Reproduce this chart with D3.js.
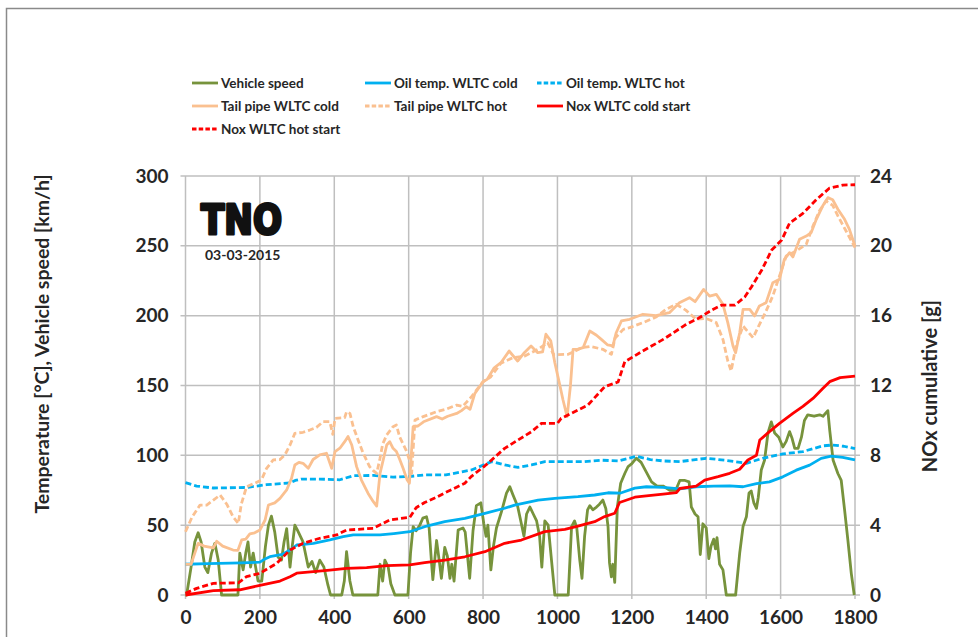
<!DOCTYPE html>
<html>
<head>
    <title>TNO WLTC NOx</title>
    <script src="https://cdn.jsdelivr.net/npm/d3@7/dist/d3.min.js" type="text/javascript"></script>
    <style type="text/css">
        body { margin: 0; background: #fff; }
        svg text { font-family: Lato, "Open Sans", sans-serif; font-weight: bold; fill: #262626; }
    </style>
</head>
<body>
<div id="chart"></div>
<script type="text/javascript">
    // data: [time s, value]
    var speed = [[0,0],[3,0],[15,20],[25,38],[34,44.6],[42,38],[52,20],[60,16],[70,30],[79,37],[88,25],[97,0],[141,0],[146,30],[155,18],[162,30],[168,38],[175,20],[182,30],[195,10],[205,10],[215,35],[223,50],[231,56.5],[240,45],[249,27],[258,25],[265,38],[272,47.5],[281,20],[287,35],[294,50],[300,47],[316,38],[330,20],[340,24],[350,16],[361,25],[372,20],[383,7],[390,0],[420,0],[427,10],[433,31],[442,10],[450,0],[517,0],[523,22],[530,10],[536,25],[545,20],[552,8],[563,0],[598,0],[605,30],[612,49],[620,46],[630,50],[638,55],[648,56],[655,48],[661,25],[665,11],[675,39],[682,25],[688,12],[697,34],[704,28],[711,12],[716,22],[722,10],[733,46.5],[746,48],[752,45],[764,12],[773,46],[782,64],[794,66],[802,51],[808,42],[813,50],[821,18],[828,35],[836,48],[850,60],[863,73],[872,77.5],[880,72],[893,63.5],[903,51],[910,42],[917,58],[926,63],[935,58],[944,53],[952,42],[958,20],[966,53],[975,50],[984,25],[993,0],[1029,0],[1038,49],[1046,53],[1052,48],[1060,25],[1066,12],[1073,42],[1081,61],[1087,64],[1095,61],[1105,63],[1113,65],[1122,68],[1130,62],[1136,49],[1140,23],[1145,13],[1149,22],[1154,9],[1161,63],[1170,80],[1181,87],[1190,92],[1200,94],[1212,98],[1225,95],[1239,88],[1253,81],[1268,78],[1284,78],[1302,75],[1318,75],[1329,82],[1343,82],[1354,81],[1360,63],[1370,58],[1378,56],[1384,29],[1391,51],[1400,48],[1407,26],[1413,35],[1420,40],[1425,33],[1429,41],[1436,22],[1445,18],[1454,0],[1479,0],[1490,30],[1499,49],[1508,56],[1515,73],[1521,74.5],[1528,66],[1535,62],[1540,70],[1548,89.5],[1557,96.7],[1566,116],[1575,124],[1584,116],[1595,113],[1606,106],[1615,110],[1624,117],[1631,112],[1638,105],[1647,105],[1656,113],[1664,125],[1673,129],[1690,128],[1705,129],[1714,128],[1727,132],[1732,118],[1741,96.7],[1754,87],[1763,82],[1772,61],[1781,39],[1790,15.5],[1798,0]];

    var oilCold = [[0,22],[60,22.5],[150,23],[200,23.5],[215,26],[227,27.4],[260,29],[281,32.2],[299,35.8],[344,37],[388,39.4],[424,41.8],[451,43],[523,43],[560,44],[603,45.3],[643,48.9],[697,52.5],[751,54.9],[805,58.5],[858,62.1],[885,64.4],[948,68],[993,69.2],[1055,70.4],[1100,71.6],[1136,73.2],[1170,73],[1208,76.5],[1239,77.5],[1284,77],[1329,76],[1373,77.5],[1420,78],[1463,78.2],[1499,77.5],[1535,79.8],[1570,81],[1606,84.6],[1642,89.4],[1678,93],[1709,97.8],[1736,99.5],[1767,98.6],[1800,96.7]];

    var oilHot = [[0,80.4],[30,78],[75,76.6],[164,77],[218,79],[281,80.2],[295,82],[312,83],[360,83],[415,82.5],[451,85.4],[505,85.6],[558,84.4],[600,84.8],[643,86],[700,86],[769,89.5],[823,95.5],[858,93.1],[894,91.4],[930,93.1],[966,95.5],[1020,95.5],[1073,95.5],[1120,96.5],[1163,96],[1212,99.3],[1250,97],[1284,96],[1329,95.5],[1400,97.9],[1450,96.5],[1508,94.3],[1552,97.9],[1606,101],[1660,102.7],[1714,106.8],[1740,107.4],[1770,106.5],[1800,104.8]];

    var tailCold = [[0,21.9],[15,22],[25,30],[34,37],[50,35],[75,33.7],[84,38.5],[100,35],[128,32.2],[141,32],[151,39.4],[162,40],[173,43.8],[186,44.5],[200,46.5],[214,53.7],[223,64.4],[240,66],[254,69.2],[272,75.2],[285,83.5],[294,93.1],[305,95],[316,94.3],[330,90.7],[343,97],[361,100.3],[379,101.5],[393,90.7],[402,102.7],[415,105.1],[428,109.8],[437,113.5],[447,107.4],[460,91.9],[473,82.3],[491,72.7],[505,66.8],[514,63.7],[523,87.1],[530,95],[541,107.4],[549,109.8],[558,105],[567,102.7],[576,97],[585,90.7],[596,82.3],[602,80],[612,120.5],[625,121],[640,124],[675,127.7],[690,126],[705,128],[729,130],[742,132],[755,134.8],[765,133],[778,144.4],[800,152.7],[811,154.4],[830,162.7],[848,166.3],[870,174.7],[893,167.5],[911,173.5],[929,178.3],[947,173.5],[960,174],[969,186.7],[982,182],[993,166.3],[1005,152],[1015,139.6],[1026,127.7],[1035,150],[1042,175.9],[1055,176],[1069,177.1],[1087,189],[1105,186],[1118,183],[1135,179],[1149,178.3],[1158,187.8],[1172,196.2],[1194,197.4],[1230,201],[1265,200],[1301,202.1],[1328,209.3],[1355,212.9],[1370,210],[1393,218.8],[1409,214],[1427,215.3],[1445,208.1],[1458,195],[1472,178.3],[1479,173.5],[1490,187.8],[1499,204.5],[1517,204.5],[1530,199.8],[1543,207],[1561,209.3],[1579,223.6],[1597,226],[1610,240.3],[1624,245.1],[1633,242],[1651,254.7],[1669,257],[1682,259.4],[1696,269],[1713,278.5],[1727,284.5],[1740,283],[1754,276.2],[1772,269],[1785,261.8],[1800,249.9]];

    var tailHot = [[0,45.3],[18,56],[39,64.4],[57,64.4],[75,68],[93,71.6],[111,65],[128,56],[142,51.3],[150,65],[164,77.5],[186,80],[204,82.3],[218,90.7],[236,96.7],[254,97],[267,100.2],[281,107.4],[294,115.8],[316,116.5],[334,118.1],[352,120],[370,124.1],[388,124.1],[396,115],[402,126.5],[428,127],[433,131.2],[442,130],[451,120.5],[464,111],[477,102],[495,91.9],[505,89],[514,87.1],[523,97.9],[530,108],[541,114.6],[558,120.5],[567,121.7],[576,113],[593,103.8],[602,96.7],[608,87],[617,125.3],[639,127.7],[675,131.2],[700,133],[729,136],[745,135],[769,142],[800,152.7],[820,156],[848,166],[880,169.9],[911,171],[947,175.9],[974,180.6],[990,172],[1029,172.3],[1065,177],[1088,178],[1122,175.9],[1145,172.3],[1155,184],[1177,190.2],[1194,191.4],[1230,195],[1265,199],[1292,204.5],[1319,208.1],[1345,204],[1373,197.4],[1400,198],[1427,195],[1445,183],[1458,167.5],[1467,160.4],[1480,178.3],[1499,192.6],[1526,184.2],[1540,192],[1561,203.4],[1579,214.1],[1597,228.4],[1615,242.7],[1642,246.3],[1669,251.1],[1687,264.2],[1704,274.9],[1722,282.1],[1740,279],[1754,271.4],[1776,260.6],[1800,248.7]];

    // NOx cumulative, right axis [g]
    var noxCold = [[0,0],[75,0.25],[146,0.3],[200,0.55],[254,0.8],[281,1.05],[299,1.25],[344,1.34],[388,1.43],[433,1.53],[487,1.57],[541,1.68],[603,1.72],[643,1.85],[697,2.0],[751,2.19],[805,2.48],[858,2.96],[903,3.15],[966,3.63],[1020,3.76],[1055,3.95],[1100,4.2],[1127,4.49],[1154,4.68],[1167,5.3],[1208,5.6],[1239,5.68],[1284,5.78],[1320,5.87],[1329,6.1],[1373,6.24],[1396,6.58],[1432,6.78],[1463,6.97],[1490,7.2],[1512,7.73],[1535,8.0],[1544,8.88],[1570,9.36],[1597,9.83],[1633,10.4],[1660,10.8],[1687,11.26],[1714,11.84],[1732,12.22],[1760,12.45],[1800,12.54]];

    var noxHot = [[0,0.1],[30,0.38],[75,0.67],[142,0.7],[164,1.05],[200,1.24],[245,1.81],[281,2.58],[316,2.96],[361,3.25],[406,3.44],[433,3.72],[505,3.82],[549,4.3],[603,4.45],[620,5.0],[643,5.3],[675,5.6],[697,5.85],[751,6.4],[769,6.8],[805,7.4],[823,7.73],[858,8.4],[894,8.88],[930,9.35],[957,9.83],[1000,9.83],[1010,10.12],[1046,10.5],[1082,10.88],[1127,11.93],[1163,12.2],[1181,13.36],[1226,13.93],[1289,14.7],[1343,15.46],[1379,15.85],[1415,16.32],[1441,16.6],[1477,16.6],[1504,17.08],[1522,17.66],[1549,18.6],[1576,19.76],[1603,20.33],[1624,21.3],[1660,21.86],[1695,22.62],[1731,23.3],[1767,23.48],[1800,23.5]];

    var xTicks = [0,200,400,600,800,1000,1200,1400,1600,1800];
    var yTicks = [0,50,100,150,200,250,300];
    var y2Ticks = [0,4,8,12,16,20,24];

    var series = [
        {name: 'Vehicle speed', data: speed, color: '#77933C', dash: null, axis: 'L'},
        {name: 'Oil temp. WLTC cold', data: oilCold, color: '#00B0F0', dash: null, axis: 'L'},
        {name: 'Oil temp. WLTC hot', data: oilHot, color: '#00B0F0', dash: '6,3', axis: 'L'},
        {name: 'Tail pipe WLTC cold', data: tailCold, color: '#FAC090', dash: null, axis: 'L'},
        {name: 'Tail pipe WLTC hot', data: tailHot, color: '#FAC090', dash: '6,3', axis: 'L'},
        {name: 'Nox WLTC cold start', data: noxCold, color: '#FF0000', dash: null, axis: 'R'},
        {name: 'Nox WLTC hot start', data: noxHot, color: '#FF0000', dash: '6,3', axis: 'R'}
    ];

    var W = 978, H = 637;
    var svg = d3.select('#chart').append('svg').attr('width', W).attr('height', H);

    // outer frame (left + top)
    svg.append('path').attr('d', 'M6.5,637 L6.5,8.5 L978,8.5')
        .attr('fill', 'none').attr('stroke', '#8a8a8a').attr('stroke-width', 1.5);

    var x = d3.scaleLinear().domain([0, 1800]).range([185.5, 855]);
    var yL = d3.scaleLinear().domain([0, 300]).range([595, 176]);
    var yR = d3.scaleLinear().domain([0, 24]).range([595, 176]);

    // grid
    var grid = svg.append('g');
    grid.selectAll('.gx').data(xTicks).enter().append('line')
        .attr('x1', function(d) { return x(d); }).attr('x2', function(d) { return x(d); })
        .attr('y1', yL(300)).attr('y2', yL(0) + 4)
        .attr('stroke', '#bfbfbf').attr('stroke-width', 1.5);
    grid.selectAll('.gy').data(yTicks).enter().append('line')
        .attr('x1', x(0) - 5).attr('x2', x(1800) + 5)
        .attr('y1', function(d) { return yL(d); }).attr('y2', function(d) { return yL(d); })
        .attr('stroke', '#bfbfbf').attr('stroke-width', 1.5);

    // axes (labels only, Excel style)
    var fmt = d3.format('d');
    var axL = svg.append('g').attr('transform', 'translate(' + (x(0) - 17) + ',0)')
        .call(d3.axisLeft(yL).tickValues(yTicks).tickFormat(fmt).tickSize(0).tickPadding(0));
    var axR = svg.append('g').attr('transform', 'translate(' + (x(1800) + 15) + ',0)')
        .call(d3.axisRight(yR).tickValues(y2Ticks).tickFormat(fmt).tickSize(0).tickPadding(0));
    var axB = svg.append('g').attr('transform', 'translate(0,' + (yL(0) + 15) + ')')
        .call(d3.axisBottom(x).tickValues(xTicks).tickFormat(fmt).tickSize(0).tickPadding(0));
    [axL, axR, axB].forEach(function(a) {
        a.select('.domain').remove();
        a.selectAll('text').style('font-size', '19px').style('font-family', null).attr('fill', '#262626');
    });
    axB.selectAll('text').attr('dy', '0.75em');

    // axis titles
    svg.append('text').attr('transform', 'translate(49,344) rotate(-90)')
        .attr('text-anchor', 'middle').style('font-size', '19.5px')
        .text('Temperature [°C], Vehicle speed [km/h]');
    svg.append('text').attr('transform', 'translate(937,386) rotate(-90)')
        .attr('text-anchor', 'middle').style('font-size', '20px')
        .text('NOx cumulative [g]');

    // lines
    var lines = svg.append('g');
    series.forEach(function(s) {
        var yy = s.axis == 'L' ? yL : yR;
        var line = d3.line().x(function(d) { return x(d[0]); }).y(function(d) { return yy(d[1]); });
        lines.append('path').datum(s.data)
            .attr('d', line)
            .attr('fill', 'none')
            .attr('stroke', s.color)
            .attr('stroke-width', 2.8)
            .attr('stroke-linejoin', 'round')
            .attr('stroke-dasharray', s.dash);
    });

    // legend, 3 columns
    var legX = [192, 365, 537], legY = [83, 106, 129];
    var leg = svg.append('g');
    series.forEach(function(s, i) {
        var lx = legX[i % 3], ly = legY[Math.floor(i / 3)];
        leg.append('line').attr('x1', lx).attr('x2', lx + 26).attr('y1', ly).attr('y2', ly)
            .attr('stroke', s.color).attr('stroke-width', 2.8)
            .attr('stroke-dasharray', s.dash ? '4.5,2.2' : null);
        leg.append('text').attr('x', lx + 29).attr('y', ly).attr('dy', '0.36em')
            .style('font-size', '13.5px').text(s.name);
    });

    // TNO logo + date
    svg.append('text').attr('x', 201).attr('y', 234)
        .attr('textLength', 81).attr('lengthAdjust', 'spacingAndGlyphs')
        .style('font-family', '"DejaVu Sans", sans-serif').style('font-weight', 900)
        .style('font-size', '40px').style('fill', '#111').attr('stroke', '#111').attr('stroke-width', 3)
        .attr('stroke-linejoin', 'round')
        .text('TNO');
    svg.append('text').attr('x', 205).attr('y', 260)
        .style('font-size', '14px').text('03-03-2015');
</script>
</body>
</html>
